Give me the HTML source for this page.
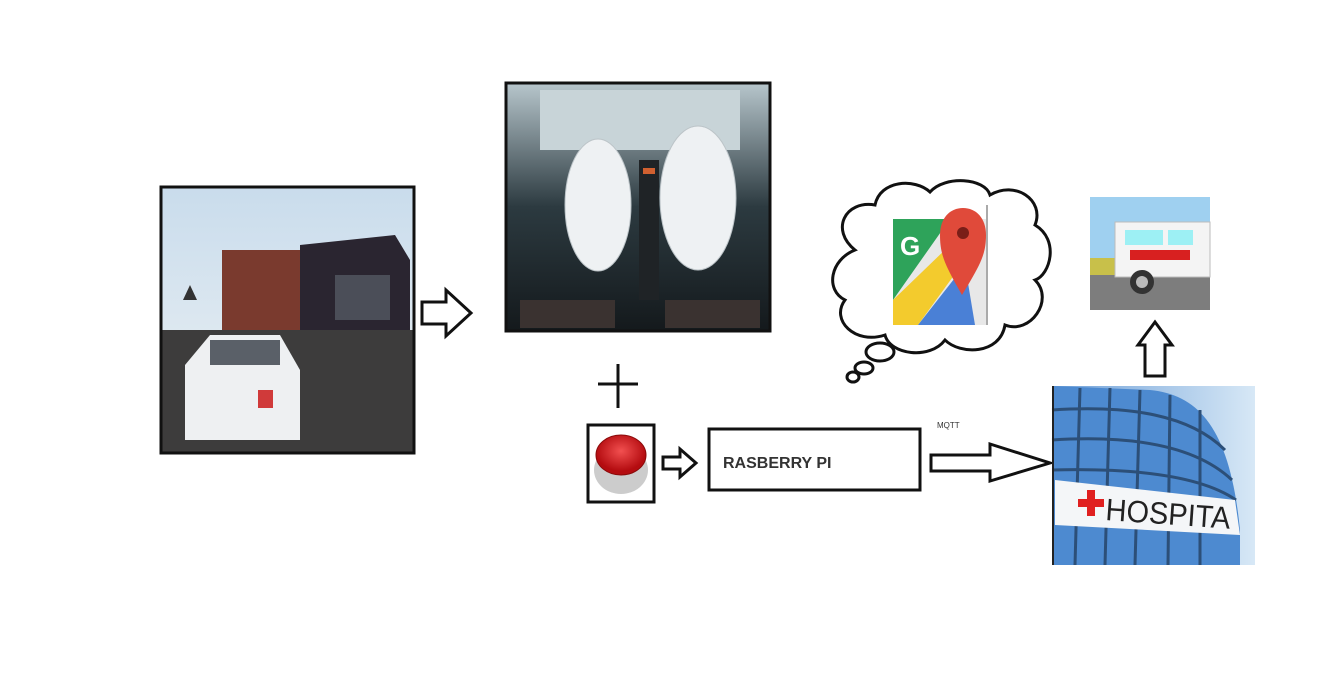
<!DOCTYPE html>
<html><head><meta charset="utf-8"><style>
html,body{margin:0;padding:0;background:#fff;}
svg{display:block;}
</style></head><body>
<svg width="1324" height="681" viewBox="0 0 1324 681" xmlns="http://www.w3.org/2000/svg" font-family="Liberation Sans, sans-serif">
<defs>
<linearGradient id="sky" x1="0" y1="0" x2="0" y2="1"><stop offset="0" stop-color="#c9dcec"/><stop offset="1" stop-color="#eef2f4"/></linearGradient>
<linearGradient id="car" x1="0" y1="0" x2="0" y2="1"><stop offset="0" stop-color="#b7c6cc"/><stop offset="0.5" stop-color="#2c3a40"/><stop offset="1" stop-color="#14191c"/></linearGradient>
<linearGradient id="hsky" x1="0" y1="0" x2="1" y2="0"><stop offset="0" stop-color="#6fa0d8"/><stop offset="1" stop-color="#d7e8f6"/></linearGradient>
<radialGradient id="btn" cx="0.5" cy="0.4" r="0.5"><stop offset="0" stop-color="#f25050"/><stop offset="1" stop-color="#b40c10"/></radialGradient>
</defs>

<!-- accident photo -->
<rect x="161" y="187" width="253" height="266" fill="url(#sky)"/>
<rect x="222" y="250" width="120" height="95" fill="#7a3a2e"/>
<polygon points="300,245 395,235 410,260 410,440 300,440" fill="#2a2530"/>
<rect x="335" y="275" width="55" height="45" fill="#4b4e58"/>
<rect x="161" y="330" width="253" height="123" fill="#3d3c3c"/>
<path d="M185,365 L210,335 L280,335 L300,370 L300,440 L185,440 Z" fill="#eef0f2"/>
<rect x="210" y="340" width="70" height="25" fill="#5a6068"/>
<rect x="258" y="390" width="15" height="18" fill="#d03a3a"/>
<polygon points="183,300 190,285 197,300" fill="#333"/>
<rect x="161" y="187" width="253" height="266" fill="none" stroke="#111" stroke-width="3"/>

<!-- arrow 1 -->
<polygon points="422,302 446,302 446,290 471,313 446,336 446,324 422,324" fill="#fff" stroke="#111" stroke-width="3"/>

<!-- airbag photo -->
<rect x="506" y="83" width="264" height="248" fill="url(#car)"/>
<rect x="540" y="90" width="200" height="60" fill="#c8d4d8"/>
<ellipse cx="598" cy="205" rx="33" ry="66" fill="#eef1f3" stroke="#bcc4c8"/>
<ellipse cx="698" cy="198" rx="38" ry="72" fill="#eef1f3" stroke="#bcc4c8"/>
<rect x="639" y="160" width="20" height="140" fill="#1f2326"/>
<rect x="643" y="168" width="12" height="6" fill="#d06030"/>
<rect x="520" y="300" width="95" height="28" fill="#3a3230"/>
<rect x="665" y="300" width="95" height="28" fill="#3a3230"/>
<rect x="506" y="83" width="264" height="248" fill="none" stroke="#111" stroke-width="3"/>

<!-- plus -->
<line x1="618" y1="364" x2="618" y2="408" stroke="#111" stroke-width="3"/>
<line x1="598" y1="384" x2="638" y2="384" stroke="#111" stroke-width="3"/>

<!-- button -->
<rect x="588" y="425" width="66" height="77" fill="#fff" stroke="#111" stroke-width="3"/>
<ellipse cx="621" cy="470" rx="27" ry="24" fill="#ccc"/>
<ellipse cx="621" cy="455" rx="25" ry="20" fill="url(#btn)" stroke="#8a0a0a" stroke-width="1"/>

<!-- small arrow -->
<polygon points="663,457 680,457 680,449 696,463 680,477 680,469 663,469" fill="#fff" stroke="#111" stroke-width="3"/>

<!-- rasberry pi box -->
<rect x="709" y="429" width="211" height="61" fill="#fff" stroke="#111" stroke-width="3"/>
<text x="723" y="468" font-size="16" font-weight="bold" fill="#333">RASBERRY PI</text>

<!-- MQTT -->
<text x="937" y="428" font-size="8" fill="#333">MQTT</text>
<polygon points="931,455 990,455 990,444 1050,463 990,481 990,471 931,471" fill="#fff" stroke="#111" stroke-width="3"/>

<!-- cloud -->
<path d="M855,250 C830,230 845,200 875,205 C880,180 915,178 930,192 C945,175 985,178 990,195 C1015,180 1045,200 1035,225 C1060,240 1050,275 1035,280 C1055,300 1030,335 1005,325 C1000,355 960,355 945,340 C930,360 890,355 885,335 C855,345 830,320 845,300 C825,290 830,260 855,250 Z" fill="#fff" stroke="#111" stroke-width="3"/>
<ellipse cx="880" cy="352" rx="14" ry="9" fill="#fff" stroke="#111" stroke-width="3"/>
<ellipse cx="864" cy="368" rx="9" ry="6" fill="#fff" stroke="#111" stroke-width="3"/>
<ellipse cx="853" cy="377" rx="6" ry="5" fill="#fff" stroke="#111" stroke-width="3"/>
<rect x="893" y="219" width="95" height="106" fill="#e8e8e8"/>
<polygon points="893,219 950,219 893,300" fill="#2ea35a"/>
<polygon points="893,325 893,300 950,245 965,260 918,325" fill="#f3cb2d"/>
<polygon points="918,325 965,265 975,325" fill="#4a80d6"/>
<text x="900" y="255" font-size="26" font-weight="bold" fill="#fff">G</text>
<path d="M962,295 C945,265 940,255 940,235 C940,218 950,208 963,208 C976,208 986,218 986,235 C986,255 980,265 962,295 Z" fill="#e04a3a"/>
<circle cx="963" cy="233" r="6" fill="#7a1e18"/>
<line x1="987" y1="205" x2="987" y2="325" stroke="#aaa" stroke-width="2"/>

<!-- ambulance -->
<rect x="1090" y="197" width="120" height="113" fill="#9fd0f0"/>
<rect x="1090" y="275" width="120" height="35" fill="#7d7d7d"/>
<rect x="1090" y="258" width="25" height="17" fill="#c8c04a"/>
<rect x="1115" y="222" width="95" height="55" fill="#f4f4f4" stroke="#bbb"/>
<rect x="1125" y="230" width="38" height="15" fill="#9df0f4"/>
<rect x="1168" y="230" width="25" height="15" fill="#9df0f4"/>
<rect x="1130" y="250" width="60" height="10" fill="#d82020"/>
<circle cx="1142" cy="282" r="12" fill="#333"/><circle cx="1142" cy="282" r="6" fill="#bbb"/>

<polygon points="1145,376 1145,345 1138,345 1155,322 1172,345 1165,345 1165,376" fill="#fff" stroke="#111" stroke-width="3"/>

<!-- hospital -->
<rect x="1052" y="386" width="203" height="179" fill="url(#hsky)"/>
<path d="M1052,386 L1150,390 C1200,395 1230,430 1240,530 L1240,565 L1052,565 Z" fill="#4d8ad0"/>
<g stroke="#2c4f78" stroke-width="3" fill="none">
<path d="M1052,410 C1130,405 1190,415 1225,450"/>
<path d="M1052,440 C1130,435 1195,445 1232,480"/>
<path d="M1052,470 C1130,468 1200,475 1236,500"/>
<line x1="1080" y1="388" x2="1075" y2="565"/>
<line x1="1110" y1="388" x2="1105" y2="565"/>
<line x1="1140" y1="390" x2="1135" y2="565"/>
<line x1="1170" y1="395" x2="1168" y2="565"/>
<line x1="1200" y1="410" x2="1200" y2="565"/>
</g>
<path d="M1055,480 L1235,500 L1240,535 L1055,525 Z" fill="#f4f6f8"/>
<text x="1105" y="520" font-size="31" fill="#222" textLength="125" lengthAdjust="spacingAndGlyphs" transform="rotate(4 1105 520)">HOSPITA</text>
<rect x="1087" y="490" width="8" height="26" fill="#e02020"/><rect x="1078" y="499" width="26" height="8" fill="#e02020"/>
<line x1="1053" y1="386" x2="1053" y2="565" stroke="#222" stroke-width="2"/>
</svg>
</body></html>
